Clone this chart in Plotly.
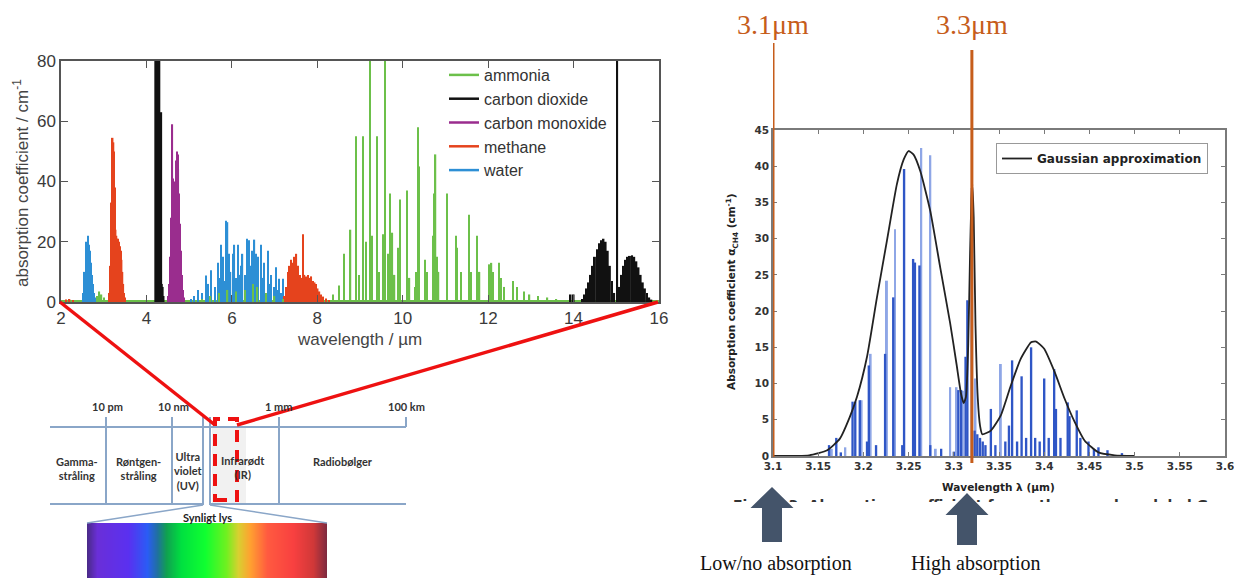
import plotly.graph_objects as go

W, H = 1234, 578

# ================= Left panel: gas absorption spectra (wavelength µm, absorption coefficient cm^-1)
water_x = [2.52, 2.55, 2.58, 2.60, 2.63, 2.65, 2.68, 2.70, 2.72, 2.75, 2.78, 2.82,
           5.05, 5.12, 5.20, 5.30, 5.40, 5.45, 5.51, 5.60, 5.67, 5.70, 5.75, 5.79, 5.82, 5.86, 5.90, 5.93, 5.97,
           6.02, 6.06, 6.10, 6.14, 6.18, 6.22, 6.25, 6.30, 6.35, 6.41, 6.45, 6.47, 6.53, 6.57, 6.58, 6.62, 6.68,
           6.72, 6.76, 6.84, 6.88, 6.92, 6.98, 7.04, 7.08, 7.11, 7.15, 7.19, 7.25]
water_y = [3, 10, 18, 20, 22, 19, 17, 13, 9, 6, 3, 1.5,
           1, 2, 4, 3, 8.8, 6, 10.5, 5, 13, 8, 19, 15, 7, 27, 26.5, 16, 10,
           16, 19, 8, 19, 9, 12, 16, 9, 21, 20.5, 12, 17, 20.7, 16, 10, 15, 19,
           8, 13, 17, 6, 9, 5, 11.5, 4, 7.7, 3, 7.7, 1.5]

methane_x = [2.12, 2.20, 2.28,
             3.14, 3.16, 3.18, 3.20, 3.21, 3.22, 3.23, 3.24, 3.26, 3.28, 3.30, 3.32, 3.34, 3.36, 3.38, 3.40,
             3.42, 3.44, 3.46, 3.48, 3.50,
             7.22, 7.27, 7.31, 7.35, 7.39, 7.43, 7.47, 7.51, 7.55, 7.59, 7.63, 7.66, 7.70, 7.74, 7.78, 7.82,
             7.86, 7.90, 7.94, 7.97, 8.01, 8.05, 8.09, 8.14, 8.20, 8.28]
methane_y = [0.8, 1, 0.6,
             3, 12, 33, 48, 54.5, 40, 53, 50, 38, 24, 22, 21, 21, 20, 18.5, 17,
             14, 10, 6, 3, 1.5,
             2, 5, 10, 12, 14, 13, 15, 16, 12, 9, 8, 22.5, 9, 8.5, 9, 8,
             8.5, 7, 6.5, 6, 4.5, 3.5, 2.5, 1.8, 1.2, 0.6]

co_x = [4.50, 4.53, 4.55, 4.57, 4.59, 4.61, 4.63, 4.65, 4.67, 4.69, 4.71, 4.73, 4.75, 4.77, 4.79,
        4.81, 4.83, 4.85, 4.88]
co_y = [2, 6, 15, 28, 40, 59, 41, 35, 40, 47, 50, 49, 44, 36, 26, 17, 9, 4, 1.5]

co2_band_x = [4.255]
co2_band_y = [90]
co2_x = [4.33, 4.345, 4.36, 4.38, 4.40, 13.93, 14.00,
         14.20, 14.25, 14.30, 14.35, 14.40, 14.45, 14.50, 14.55, 14.60, 14.65, 14.70, 14.75, 14.80, 14.85,
         14.90, 14.95, 15.02, 15.07, 15.12, 15.17, 15.22, 15.27, 15.32, 15.37, 15.42, 15.47, 15.52, 15.57,
         15.62, 15.67, 15.72, 15.77, 15.82]
co2_y = [10, 63, 6, 5, 2, 2.5, 2.5,
         1, 2.5, 4.5, 6.5, 9, 12, 15, 17.5, 19.5, 20.5, 21, 20, 17, 12,
         7, 3, 90, 5, 9, 12, 14, 15, 15.3, 15.5, 15, 13.5, 11.5, 9,
         6.5, 4.5, 3, 1.5, 0.8]

ammonia_x = [2.85, 2.90, 2.95, 3.00, 5.30, 5.50, 5.70, 5.90, 6.10, 6.30, 6.50, 6.60, 6.80, 7.00, 7.20,
             8.36, 8.50, 8.63, 8.78, 8.91, 8.97, 9.07, 9.14, 9.24, 9.28, 9.39, 9.45, 9.53, 9.59, 9.65,
             9.70, 9.76, 9.81, 9.90, 9.94, 10.10, 10.16, 10.28, 10.31, 10.36, 10.39, 10.52, 10.57, 10.72,
             10.74, 10.77, 10.80, 10.84, 11.04, 11.25, 11.27, 11.37, 11.55, 11.60, 11.74, 11.80, 12.03,
             12.08, 12.12, 12.25, 12.30, 12.38, 12.58, 12.67, 12.84, 12.97, 13.16, 13.39, 13.60]
ammonia_y = [2, 3.5, 2.5, 1.5, 1, 2, 3, 4, 3.5, 4, 6, 5, 3, 2, 1,
             2.5, 5.5, 16, 24, 55, 9, 55, 20, 85, 22, 55, 10, 22.5, 85, 16,
             36, 23, 9, 18, 34, 37, 8, 5, 10, 58, 45, 14, 10, 22,
             36, 49, 15, 10, 36, 22, 18, 10, 29, 10, 22, 10, 12.5,
             13, 10, 13, 8, 5, 7, 5, 3.5, 2.5, 2, 1.5, 1]

left_x_ticks = [2, 4, 6, 8, 10, 12, 14, 16]
left_y_ticks = [0, 20, 40, 60, 80]
legend_names = ["ammonia", "carbon dioxide", "carbon monoxide", "methane", "water"]

# ================= Right panel: methane absorption near 3.1–3.6 µm
ch4_dark_x = [3.162, 3.170, 3.175, 3.188, 3.191, 3.196, 3.204, 3.206, 3.214, 3.224, 3.233, 3.243, 3.245,
              3.255, 3.257, 3.262, 3.274, 3.286, 3.300, 3.305, 3.308, 3.313, 3.315, 3.320, 3.323, 3.326,
              3.329, 3.332, 3.335, 3.341, 3.346, 3.357, 3.361, 3.3645, 3.370, 3.375, 3.380, 3.3855, 3.390,
              3.395, 3.400, 3.405, 3.411, 3.413, 3.418, 3.426, 3.428, 3.436, 3.440, 3.449, 3.455, 3.460,
              3.470, 3.486]
ch4_dark_y = [1.5, 2.5, 0.5, 7.5, 7.5, 7.7, 2.0, 12.5, 1.5, 14.1, 21.9, 1.5, 39.6,
              27.2, 26.7, 26.3, 1.5, 1.0, 0.6, 9.1, 9.1, 13.7, 21.5, 37.0, 3.5, 3.0,
              2.5, 2.0, 1.5, 6.5, 1.5, 2.0, 4.2, 13.2, 2.0, 11.0, 2.5, 15.0, 2.5,
              2.0, 10.7, 2.5, 12.0, 6.5, 2.5, 7.4, 5.5, 6.3, 2.5, 2.0, 1.0, 1.2,
              0.8, 0.4]
ch4_light_x = [3.165, 3.180, 3.198, 3.208, 3.226, 3.235, 3.264, 3.274, 3.280, 3.296, 3.303, 3.310, 3.324, 3.352]
ch4_light_y = [1.0, 1.2, 7.7, 14.1, 24.2, 31.3, 42.5, 41.5, 1.0, 9.5, 9.5, 9.0, 10.7, 12.7]

gauss_x = [3.10, 3.14, 3.16, 3.174, 3.185, 3.193, 3.204, 3.215, 3.226, 3.237, 3.2445, 3.250, 3.2555,
           3.263, 3.274, 3.285, 3.296, 3.303, 3.308, 3.311, 3.3135, 3.316, 3.318, 3.3195, 3.3205, 3.322,
           3.324, 3.3265, 3.329, 3.3315, 3.341, 3.352, 3.363, 3.374, 3.3855, 3.391, 3.400, 3.4115, 3.4226,
           3.4337, 3.4448, 3.46, 3.478, 3.50]
gauss_y = [0, 0.1, 0.8, 2.4, 5.4, 8.2, 13.7, 21.9, 29.7, 37.5, 40.9, 42.1, 41.6,
           39.3, 33.8, 26.0, 18.3, 12.7, 8.6, 7.3, 8.2, 15.5, 28, 35.5, 37.5, 33,
           18, 8, 4.2, 3.0, 3.5, 5.6, 9.7, 13.4, 15.7, 15.8, 14.8, 11.6, 7.9,
           4.7, 2.1, 0.5, 0.1, 0]

right_x_ticks = [3.1, 3.15, 3.2, 3.25, 3.3, 3.35, 3.4, 3.45, 3.5, 3.55, 3.6]
right_x_labels = ["3.1", "3.15", "3.2", "3.25", "3.3", "3.35", "3.4", "3.45", "3.5", "3.55", "3.6"]
right_y_ticks = [0, 5, 10, 15, 20, 25, 30, 35, 40, 45]

marker_wavelengths = [3.1, 3.32]
marker_labels = ["3.1\u03bcm", "3.3\u03bcm"]

# ================= Visible light strip
spectrum_pos = [0.0, 0.04, 0.17, 0.25, 0.29, 0.33, 0.39, 0.49, 0.58, 0.63, 0.68, 0.75, 0.86, 0.94, 1.0]
spectrum_col = ["#4b2a8a", "#6a2fd8", "#5a30f0", "#2a5cf5", "#2070a0", "#10a050", "#00e040", "#10ff30",
                "#70f020", "#d8d030", "#ffa030", "#ff5a40", "#f84040", "#d03838", "#7a2a40"]

caption_text = ["Figure 3. Absorption coefficient for methane and modeled Gaussian approximation"]

# ---------------------------------------------------------------------------
def PX(x):
    return x / W


def PY(y):
    return 1 - y / H


C_AMM, C_CO2, C_CO, C_CH4, C_H2O = "#6cc04a", "#111111", "#9a2d8e", "#e5431d", "#2d8fd5"
ORANGE = "#C65D1B"
SLATE = "#44546A"
EMC = "#8AA6C8"
RF = "DejaVu Sans"

fig = go.Figure()


def bars(x, y, color, width, xa="x", ya="y"):
    return go.Bar(x=x, y=y, width=width, marker=dict(color=color, line=dict(width=0)),
                  xaxis=xa, yaxis=ya, showlegend=False, hoverinfo="skip")


fig.add_trace(bars(water_x, water_y, C_H2O, 0.03))
fig.add_trace(bars(methane_x, methane_y, C_CH4, 0.035))
fig.add_trace(bars(co_x, co_y, C_CO, 0.028))
fig.add_trace(bars(co2_band_x, co2_band_y, C_CO2, 0.14))
fig.add_trace(bars(co2_x, co2_y, C_CO2, 0.045))
fig.add_trace(bars(ammonia_x, ammonia_y, C_AMM, 0.03))

for name, col in zip(legend_names, [C_AMM, C_CO2, C_CO, C_CH4, C_H2O]):
    fig.add_trace(go.Scatter(x=[None], y=[None], mode="lines", name=name,
                             line=dict(color=col, width=2.5), xaxis="x", yaxis="y",
                             legend="legend", showlegend=True))

# right panel
fig.add_trace(bars(ch4_light_x, ch4_light_y, "#8ea6e6", 0.0022, "x2", "y2"))
fig.add_trace(bars(ch4_dark_x, ch4_dark_y, "#2f56c6", 0.0026, "x2", "y2"))
fig.add_trace(go.Scatter(x=gauss_x, y=gauss_y, mode="lines", name="Gaussian approximation",
                         line=dict(color="#222222", width=1.8, shape="spline", smoothing=0.5),
                         xaxis="x2", yaxis="y2", legend="legend2", hoverinfo="skip"))

# visible spectrum strip
fig.add_trace(go.Heatmap(x=spectrum_pos, y=[0], z=[spectrum_pos], zmin=0, zmax=1,
                         colorscale=[[p, c] for p, c in zip(spectrum_pos, spectrum_col)],
                         zsmooth="best", showscale=False, xaxis="x3", yaxis="y3", hoverinfo="skip"))

# partially visible caption (clipped by its own tiny subplot)
fig.add_trace(go.Scatter(x=[0.0], y=[-0.7], mode="text", text=caption_text, textposition="middle right",
                         textfont=dict(family=RF, size=14, color="#333", weight="bold"),
                         cliponaxis=True, xaxis="x4", yaxis="y4", showlegend=False, hoverinfo="skip"))

axis_common = dict(showline=True, mirror="allticks", ticks="inside", showgrid=False, zeroline=False)

fig.update_layout(
    width=W, height=H, margin=dict(l=0, r=0, t=0, b=0, autoexpand=False),
    paper_bgcolor="white", plot_bgcolor="rgba(0,0,0,0)",
    barmode="overlay", showlegend=True,
    xaxis=dict(domain=[PX(61), PX(659)], range=[2, 16], tickvals=left_x_ticks, anchor="y",
               linecolor="#555", linewidth=1.5, ticklen=7, tickcolor="#555", automargin=False,
               tickfont=dict(family="Liberation Sans", size=17, color="#3a3a3a"), **axis_common),
    yaxis=dict(domain=[PY(302), PY(61)], range=[0, 80], tickvals=left_y_ticks, anchor="x",
               linecolor="#555", linewidth=1.5, ticklen=7, tickcolor="#555", automargin=False,
               tickfont=dict(family="Liberation Sans", size=17, color="#3a3a3a"),
               showline=True, mirror="allticks", ticks="inside", showgrid=False,
               zeroline=True, zerolinecolor="#6cc04a", zerolinewidth=4),
    xaxis2=dict(domain=[PX(773), PX(1225)], range=[3.1, 3.6], tickvals=right_x_ticks,
                ticktext=right_x_labels, anchor="y2", automargin=False, ticklabeloverflow="allow",
                linecolor="#7a7a7a", linewidth=1.5, ticklen=4, tickcolor="#7a7a7a",
                tickfont=dict(family=RF, size=10.5, color="#333", weight="bold"), **axis_common),
    yaxis2=dict(domain=[PY(456), PY(130)], range=[0, 45], tickvals=right_y_ticks, anchor="x2",
                linecolor="#7a7a7a", linewidth=1.5, ticklen=4, tickcolor="#7a7a7a", automargin=False,
                tickfont=dict(family=RF, size=10.5, color="#333", weight="bold"), **axis_common),
    xaxis3=dict(domain=[PX(87), PX(327)], range=[0, 1], visible=False, anchor="y3"),
    yaxis3=dict(domain=[0, PY(523)], range=[-0.5, 0.5], visible=False, anchor="x3"),
    xaxis4=dict(domain=[PX(733), 1], range=[0, 1], visible=False, anchor="y4"),
    yaxis4=dict(domain=[PY(502), PY(496)], range=[0, 1], visible=False, anchor="x4"),
    legend=dict(x=PX(444), y=PY(58), xanchor="left", yanchor="top", bgcolor="rgba(0,0,0,0)",
                font=dict(family="Liberation Sans", size=16, color="#333"), itemwidth=30,
                tracegroupgap=0),
    legend2=dict(x=PX(996), y=PY(143), xanchor="left", yanchor="top", bgcolor="white",
                 bordercolor="#999", borderwidth=1, itemwidth=30,
                 font=dict(family=RF, size=12, color="#222", weight="bold")),
)

shapes = []


def seg(x0, y0, x1, y1, color, width, dash=None):
    d = dict(type="line", xref="paper", yref="paper", x0=PX(x0), y0=PY(y0), x1=PX(x1), y1=PY(y1),
             line=dict(color=color, width=width))
    if dash:
        d["line"]["dash"] = dash
    shapes.append(d)


# electromagnetic spectrum diagram
shapes.append(dict(type="rect", xref="paper", yref="paper", x0=PX(212), x1=PX(246), y0=PY(503), y1=PY(428),
                   fillcolor="rgba(200,200,200,0.25)", line=dict(width=0)))
seg(50, 427, 406, 427, EMC, 2)
seg(50, 504, 203, 504, EMC, 2)
seg(210, 504, 406, 504, EMC, 2)
for xv in [106, 172, 203, 210, 279]:
    seg(xv, 417, xv, 505, EMC, 2)
seg(406, 417, 406, 427, EMC, 2)
seg(203, 505, 87, 523, EMC, 1.5)
seg(210, 505, 327, 523, EMC, 1.5)

# zoom connectors and dashed box
seg(60, 302, 215, 425, "#ee1111", 3.5)
seg(658, 302, 237, 425, "#ee1111", 3.5)
shapes.append(dict(type="rect", xref="paper", yref="paper", x0=PX(215), x1=PX(237), y0=PY(500), y1=PY(419),
                   line=dict(color="#ee1111", width=4, dash="12px,8px")))

# orange marker lines on the right chart
for wl, top, bot in zip(marker_wavelengths, [43, 50], [457, 463]):
    shapes.append(dict(type="line", xref="x2", yref="paper", x0=wl, x1=wl, y0=PY(bot), y1=PY(top),
                       line=dict(color=ORANGE, width=3)))


def up_arrow(cx, tip, head_base, bottom, head_half, shaft_half):
    pts = [(cx, tip), (cx + head_half, head_base), (cx + shaft_half, head_base), (cx + shaft_half, bottom),
           (cx - shaft_half, bottom), (cx - shaft_half, head_base), (cx - head_half, head_base)]
    path = "M " + " L ".join(f"{PX(x):.5f},{PY(y):.5f}" for x, y in pts) + " Z"
    shapes.append(dict(type="path", xref="paper", yref="paper", path=path, fillcolor=SLATE,
                       line=dict(width=0)))


up_arrow(772, 487, 508, 542, 21.5, 10)
up_arrow(967, 493, 515, 545, 21.5, 10)

fig.update_layout(shapes=shapes)

ann = []


def txt(x, y, text, size, color="#333", family="Liberation Sans", weight="normal", angle=0, xref="paper"):
    ann.append(dict(x=x if xref != "paper" else PX(x), y=PY(y), xref=xref, yref="paper", text=text,
                    showarrow=False, xanchor="center", yanchor="middle", textangle=angle,
                    font=dict(family=family, size=size, color=color, weight=weight)))


txt(21, 183, "absorption coefficient / cm<sup>-1</sup>", 17, "#444", angle=-90)
txt(360, 339, "wavelength / \u00b5m", 17, "#444")

EMF = "Lato"
txt(107, 406, "10 pm", 11, "#333", EMF, "bold")
txt(173, 406, "10 nm", 11, "#333", EMF, "bold")
txt(278, 406, "1 mm", 11, "#333", EMF, "bold")
txt(406, 406, "100 km", 11, "#333", EMF, "bold")
txt(77, 468, "Gamma-<br>str\u00e5ling", 11, "#333", EMF, "bold")
txt(138, 468, "R\u00f8ntgen-<br>str\u00e5ling", 11, "#333", EMF, "bold")
txt(188, 471, "Ultra<br>violet<br>(UV)", 11, "#333", EMF, "bold")
txt(243, 467, "Infrar\u00f8dt<br>(IR)", 11, "#333", EMF, "bold")
txt(343, 461, "Radiob\u00f8lger", 11, "#333", EMF, "bold")
txt(207, 517, "Synligt lys", 11, "#222", EMF, "bold")

for wl, lab in zip(marker_wavelengths, marker_labels):
    txt(wl, 25, lab, 28, ORANGE, "Liberation Serif", xref="x2")

txt(732, 291, "Absorption coefficient \u03b1<sub>CH4</sub> (cm<sup>-1</sup>)", 10.5, "#222", RF, "bold", angle=-90)
txt(998, 487, "Wavelength \u03bb (\u00b5m)", 10.5, "#222", RF, "bold")
txt(776, 563, "Low/no absorption", 20, "#111", "Liberation Serif")
txt(975, 563, "High absorption", 20, "#111", "Liberation Serif")

fig.update_layout(annotations=ann)

fig.write_html("out.html", config={"displayModeBar": False},
               post_script="document.body.style.margin='0px';document.body.style.overflow='hidden';")
